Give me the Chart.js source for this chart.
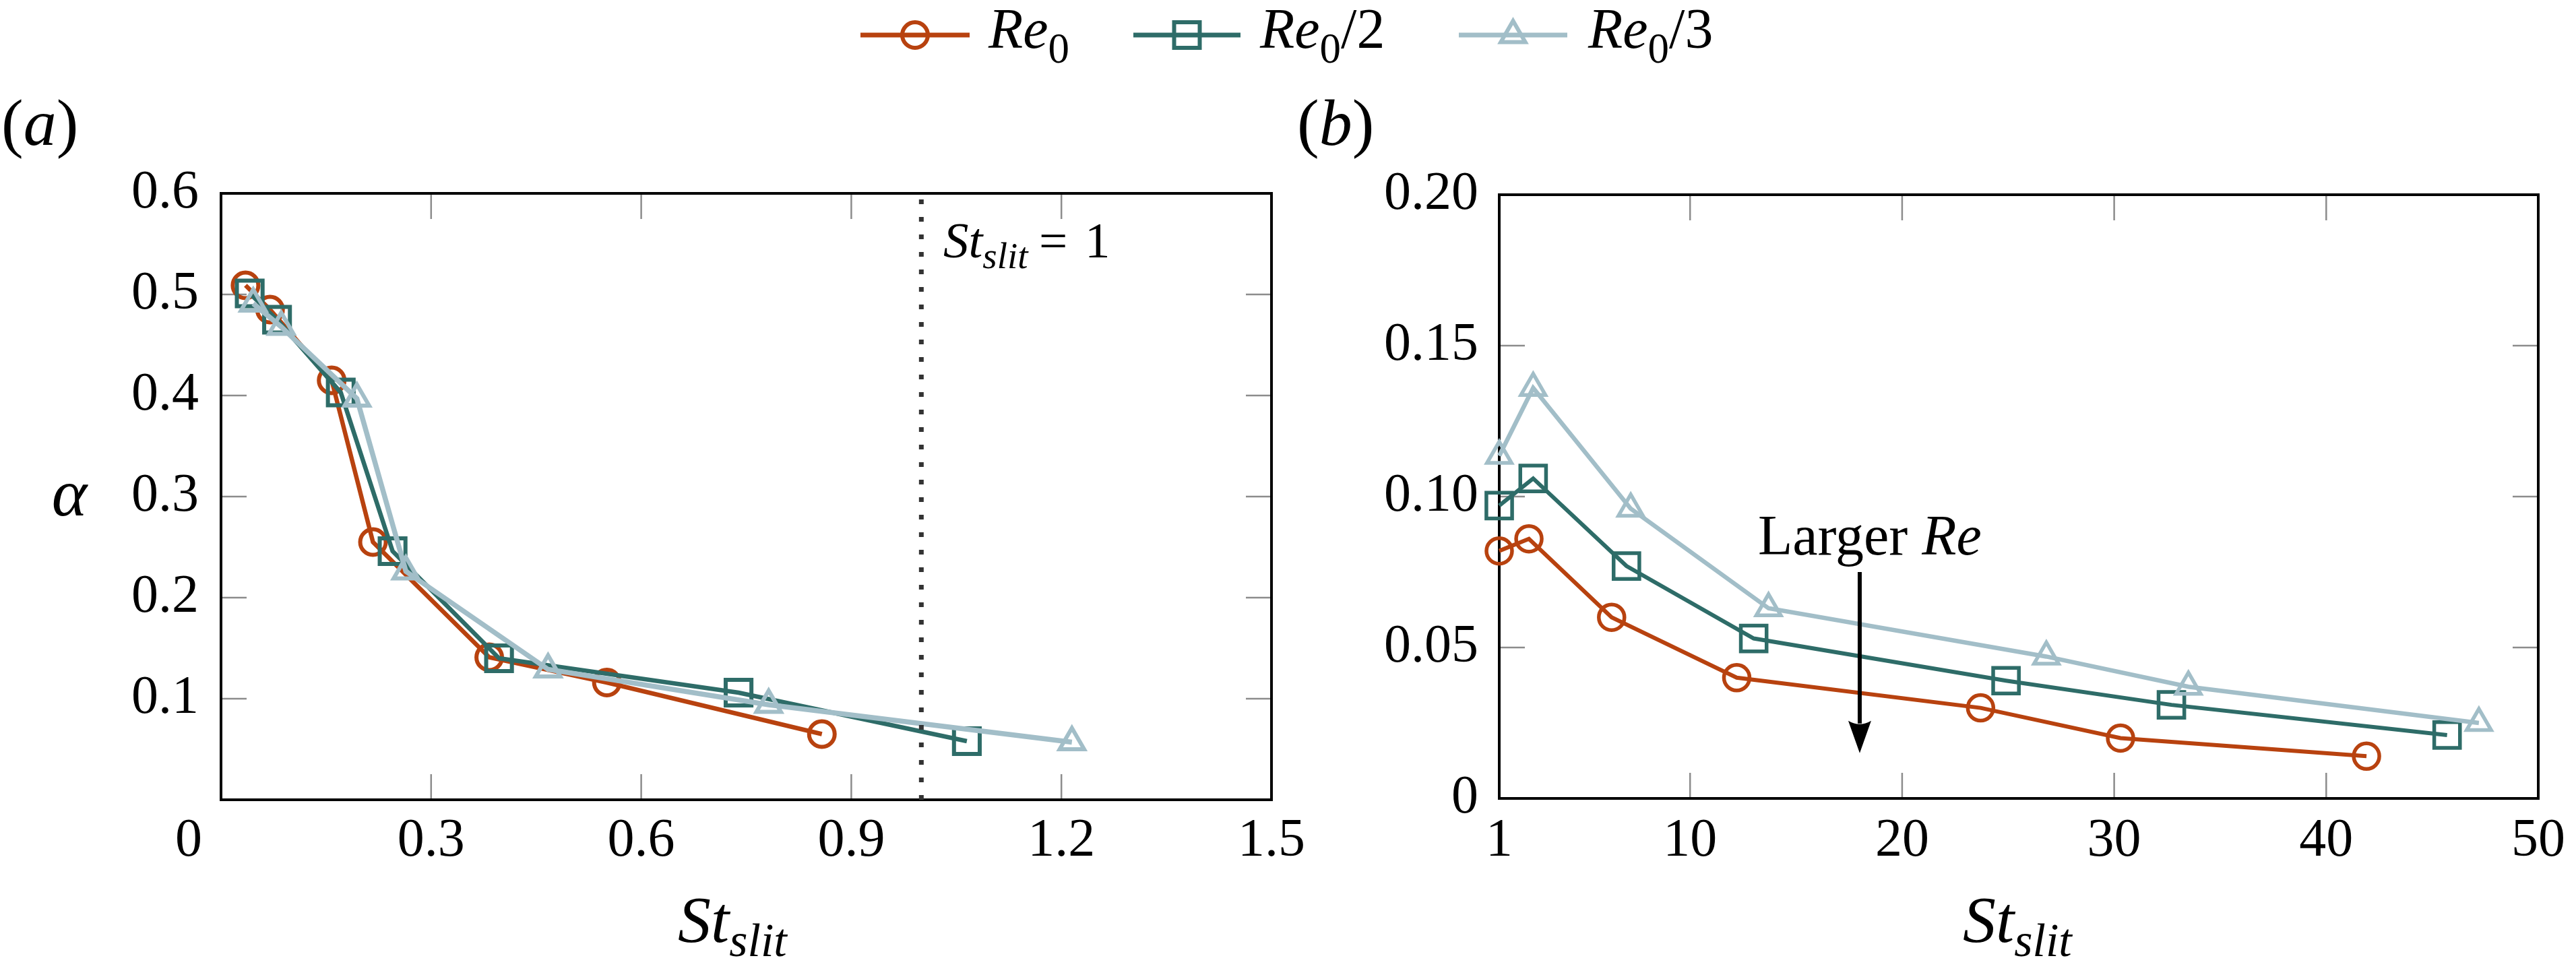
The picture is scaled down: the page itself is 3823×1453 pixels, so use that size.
<!DOCTYPE html>
<html><head><meta charset="utf-8">
<script src="https://cdn.jsdelivr.net/npm/chart.js@4.4.0/dist/chart.umd.min.js"></script>
<style>
html,body{margin:0;padding:0;background:#fff;font-family:'Liberation Serif';}
#wrap{position:relative;width:3823px;height:1453px;overflow:hidden;background:#fff;}
canvas{position:absolute;top:0;}
#ca{left:0;width:1960px;height:1453px;}
#cb{left:1911px;width:1912px;height:1453px;}
#ov{position:absolute;left:0;top:0;}
#ov text{font-family:'Liberation Serif';}
</style></head><body>
<div id="wrap">
<canvas id="ca" width="1960" height="1453"></canvas>
<canvas id="cb" width="1912" height="1453"></canvas>
<svg id="ov" width="3823" height="1453" font-family="Liberation Serif" fill="#000">
  <g id="legend"></g>
  <text x="2" y="215" font-size="98">(<tspan font-style="italic">a</tspan>)</text>
  <text x="1925" y="215" font-size="98">(<tspan font-style="italic">b</tspan>)</text>
  <text x="103" y="765" font-size="100" font-style="italic" text-anchor="middle">α</text>
  <text x="1006" y="1398" font-size="98" font-style="italic">St<tspan font-size="70" dy="21">slit</tspan></text>
  <text x="2913" y="1398" font-size="98" font-style="italic">St<tspan font-size="70" dy="21">slit</tspan></text>
  <text x="1400" y="382" font-size="75" font-style="italic">St<tspan font-size="55" dy="16">slit</tspan><tspan font-style="normal" dy="-16" x="1542">=</tspan><tspan font-style="normal" x="1610">1</tspan></text>
  <text x="2609" y="823" font-size="84">Larger <tspan font-style="italic">Re</tspan></text>
</svg>
</div>
<script>
// ---------- data ----------
const seriesLabels = ['Re0', 'Re0/2', 'Re0/3'];
const seriesColors = ['#B8420F', '#2E6C68', '#A2BEC8'];
const seriesMarkers = ['circle', 'rect', 'triangle'];

// panel (a)
const aX_Re0   = [0.035, 0.070, 0.158, 0.217, 0.383, 0.551, 0.858];
const aY_Re0   = [0.509, 0.485, 0.415, 0.255, 0.141, 0.116, 0.065];
const aX_Re0_2 = [0.041, 0.080, 0.171, 0.245, 0.397, 0.739, 1.065];
const aY_Re0_2 = [0.501, 0.475, 0.403, 0.246, 0.140, 0.106, 0.058];
const aX_Re0_3 = [0.046, 0.086, 0.194, 0.264, 0.467, 0.782, 1.215];
const aY_Re0_3 = [0.491, 0.468, 0.397, 0.226, 0.129, 0.094, 0.057];

// panel (b)
const bX_Re0   = [1.0, 2.4, 6.3, 12.2, 23.7, 30.3, 41.9];
const bY_Re0   = [0.082, 0.086, 0.060, 0.040, 0.030, 0.020, 0.014];
const bX_Re0_2 = [1.0, 2.6, 7.0, 13.0, 24.9, 32.7, 45.7];
const bY_Re0_2 = [0.097, 0.106, 0.077, 0.053, 0.039, 0.031, 0.021];
const bX_Re0_3 = [1.0, 2.6, 7.2, 13.7, 26.8, 33.5, 47.2];
const bY_Re0_3 = [0.1135, 0.136, 0.096, 0.063, 0.047, 0.037, 0.025];

// axes
const aXTicks = [0, 0.3, 0.6, 0.9, 1.2, 1.5];
const aXTickLabels = ['0', '0.3', '0.6', '0.9', '1.2', '1.5'];
const aYTicks = [0.1, 0.2, 0.3, 0.4, 0.5, 0.6];
const aYTickLabels = ['0.1', '0.2', '0.3', '0.4', '0.5', '0.6'];
const bXTicks = [1, 10, 20, 30, 40, 50];
const bXTickLabels = ['1', '10', '20', '30', '40', '50'];
const bYTicks = [0, 0.05, 0.10, 0.15, 0.20];
const bYTickLabels = ['0', '0.05', '0.10', '0.15', '0.20'];

// annotations
const stSlitRef = [1, 1];          // St_slit = 1 reference line (x)
const stSlitRefY = [0, 0.6];
const arrowX = 18;
const arrowY = [0.075, 0.015];

// ---------- helpers ----------
const pts = (xs, ys) => xs.map((x, i) => ({x, y: ys[i]}));
const FONT = 'Liberation Serif';
Chart.defaults.font.family = FONT;

const framePlugin = {
  id: 'frame',
  beforeDatasetsDraw(chart) {
    const {ctx, chartArea: a, scales: {x, y}} = chart;
    const L = 38;
    ctx.save();
    ctx.strokeStyle = '#8c8c8c';
    ctx.lineWidth = 2.5;
    ctx.beginPath();
    x.ticks.forEach(t => {
      if (t.value <= x.min || t.value >= x.max) return;
      const p = x.getPixelForValue(t.value);
      ctx.moveTo(p, a.bottom); ctx.lineTo(p, a.bottom - L);
      ctx.moveTo(p, a.top); ctx.lineTo(p, a.top + L);
    });
    y.ticks.forEach(t => {
      if (t.value <= y.min || t.value >= y.max) return;
      const p = y.getPixelForValue(t.value);
      ctx.moveTo(a.left, p); ctx.lineTo(a.left + L, p);
      ctx.moveTo(a.right, p); ctx.lineTo(a.right - L, p);
    });
    ctx.stroke();
    ctx.strokeStyle = '#000';
    ctx.lineWidth = 4;
    ctx.strokeRect(a.left, a.top, a.right - a.left, a.bottom - a.top);
    ctx.restore();
  }
};

const arrowPlugin = {
  id: 'arrow',
  afterDatasetsDraw(chart) {
    const {ctx, scales: {x, y}} = chart;
    const px = x.getPixelForValue(arrowX);
    const y0 = y.getPixelForValue(arrowY[0]);
    const y1 = y.getPixelForValue(arrowY[1]);
    const hl = 48, hw = 17;
    ctx.save();
    ctx.strokeStyle = '#000'; ctx.fillStyle = '#000';
    ctx.lineWidth = 6;
    ctx.beginPath(); ctx.moveTo(px, y0); ctx.lineTo(px, y1 - hl + 4); ctx.stroke();
    ctx.beginPath();
    ctx.moveTo(px, y1);
    ctx.lineTo(px - hw, y1 - hl);
    ctx.quadraticCurveTo(px, y1 - hl + 10, px + hw, y1 - hl);
    ctx.closePath(); ctx.fill();
    ctx.restore();
  }
};

function series(xsList, ysList, lw, mw) {
  return seriesLabels.map((lab, i) => {
    const r = seriesMarkers[i] === 'rect' ? 27 : (seriesMarkers[i] === 'triangle' ? 21 : 19);
    return {
      label: lab,
      data: pts(xsList[i], ysList[i]),
      borderColor: seriesColors[i],
      backgroundColor: seriesColors[i],
      borderWidth: lw[i],
      pointStyle: seriesMarkers[i],
      pointRadius: r,
      pointHoverRadius: r,
      pointBorderWidth: mw,
      pointBorderColor: seriesColors[i],
      pointBackgroundColor: 'rgba(255,255,255,0)',
      tension: 0,
      clip: false,
      order: 2 - i
    };
  });
}

function axis(min, max, ticks, labels, isX, pad, size, labelFn) {
  const o = {
    type: 'linear', min, max,
    grid: {display: false, drawTicks: false},
    border: {display: false},
    afterBuildTicks: s => { s.ticks = ticks.map(v => ({value: v})); },
    ticks: {
      autoSkip: false, maxRotation: 0, minRotation: 0, padding: pad,
      color: '#000', font: {family: FONT, size: 80},
      callback: (v, i) => labelFn ? labelFn(labels[i], i) : labels[i]
    }
  };
  if (isX) o.afterFit = s => { s.height = size; };
  else o.afterFit = s => { s.width = size; };
  return o;
}

// ---------- chart (a) ----------
const dsA = series([aX_Re0, aX_Re0_2, aX_Re0_3], [aY_Re0, aY_Re0_2, aY_Re0_3], [6.5, 6.5, 7.5], 6);
dsA.push({
  label: 'St_slit = 1',
  data: pts(stSlitRef, stSlitRefY),
  borderColor: '#333', borderWidth: 7, borderDash: [7, 19], borderCapStyle: 'butt',
  pointRadius: 0, pointHoverRadius: 0, tension: 0, order: -1
});
new Chart(document.getElementById('ca'), {
  type: 'line',
  data: {datasets: dsA},
  options: {
    responsive: false, animation: false, devicePixelRatio: 1,
    layout: {padding: {left: 0, right: 73, top: 287, bottom: 0}},
    plugins: {legend: {display: false}, tooltip: {enabled: false}},
    events: [],
    scales: {
      x: axis(0, 1.5, aXTicks, aXTickLabels, true, 14, 266, (l, i) => i === 0 ? l + '\u2007\u2007\u2009' : l),
      y: axis(0, 0.6, aYTicks, aYTickLabels, false, 33, 328)
    }
  },
  plugins: [framePlugin]
});

// ---------- chart (b) ----------
const dsB = series([bX_Re0, bX_Re0_2, bX_Re0_3], [bY_Re0, bY_Re0_2, bY_Re0_3], [6, 6, 6.5], 5.5);
new Chart(document.getElementById('cb'), {
  type: 'line',
  data: {datasets: dsB},
  options: {
    responsive: false, animation: false, devicePixelRatio: 1,
    layout: {padding: {left: 0, right: 42, top: 289, bottom: 0}},
    plugins: {legend: {display: false}, tooltip: {enabled: false}},
    events: [],
    scales: {
      x: axis(1, 50, bXTicks, bXTickLabels, true, 16, 268),
      y: axis(0, 0.2, bYTicks, bYTickLabels, false, 31, 314)
    }
  },
  plugins: [framePlugin, arrowPlugin]
});

// ---------- legend (built from the series arrays) ----------
(function buildLegend() {
  const NS = 'http://www.w3.org/2000/svg';
  const g = document.getElementById('legend');
  const lineX = [[1277, 1439], [1682, 1841], [2165, 2326]];
  const textX = [1467, 1870, 2357];
  const ly = 52;
  const mk = (tag, attrs, parent) => {
    const e = document.createElementNS(NS, tag);
    for (const k in attrs) e.setAttribute(k, attrs[k]);
    (parent || g).appendChild(e);
    return e;
  };
  seriesLabels.forEach((lab, i) => {
    const c = seriesColors[i];
    const [x1, x2] = lineX[i];
    const cx = (x1 + x2) / 2;
    mk('line', {x1, x2, y1: ly, y2: ly, stroke: c, 'stroke-width': 7});
    const m = seriesMarkers[i];
    if (m === 'circle') mk('circle', {cx, cy: ly, r: 19, fill: 'none', stroke: c, 'stroke-width': 6});
    else if (m === 'rect') mk('rect', {x: cx - 19, y: ly - 19, width: 38, height: 38, fill: 'none', stroke: c, 'stroke-width': 6});
    else {
      const r = 21;
      const p = [[cx, ly - r], [cx + r * 0.866, ly + r / 2], [cx - r * 0.866, ly + r / 2]];
      mk('polygon', {points: p.map(q => q.join(',')).join(' '), fill: 'none', stroke: c, 'stroke-width': 6});
    }
    const t = mk('text', {x: textX[i], y: 71, 'font-size': 84});
    const rest = lab.replace(/^Re0/, '');
    const a = mk('tspan', {'font-style': 'italic'}, t); a.textContent = 'Re';
    const s = mk('tspan', {'font-size': 63, dy: 22}, t); s.textContent = '0';
    if (rest) { const r2 = mk('tspan', {dy: -22}, t); r2.textContent = rest; }
  });
})();
</script>
</body></html>
